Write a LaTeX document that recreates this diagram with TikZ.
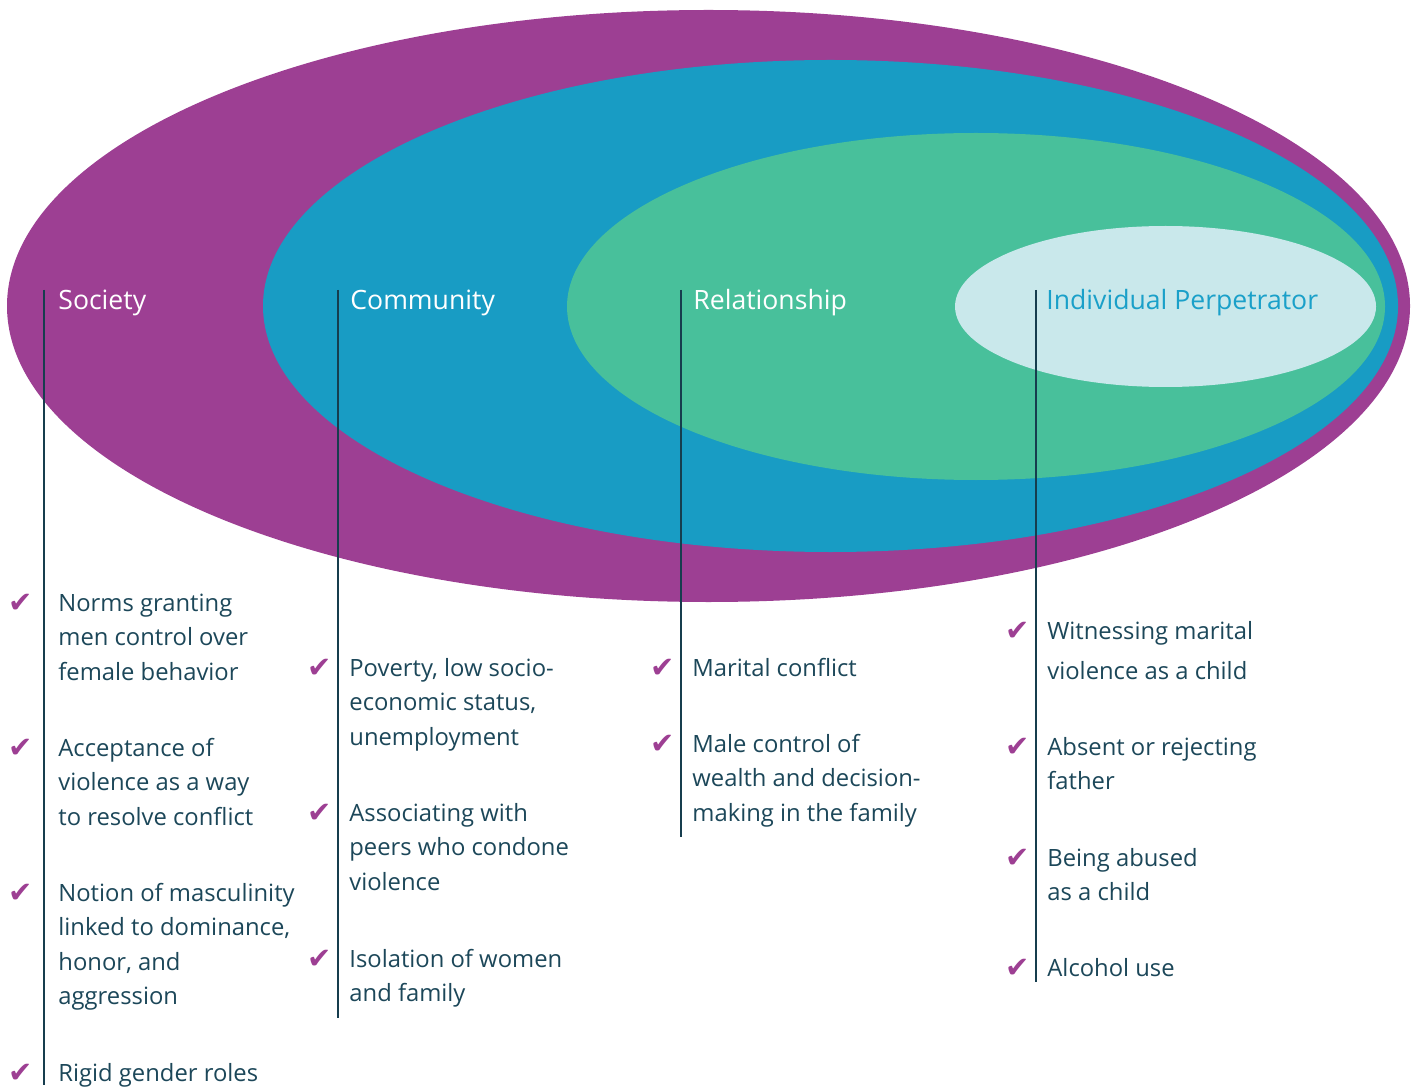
\documentclass[tikz,border=0pt]{standalone}
\usepackage{fontspec}
\setmainfont{Open Sans}
\newfontfamily\tickfont{DejaVu Sans}
\definecolor{societyc}{HTML}{9D3F93}
\definecolor{communityc}{HTML}{189CC4}
\definecolor{relationc}{HTML}{48C09B}
\definecolor{individc}{HTML}{C9E8EB}
\definecolor{inktext}{HTML}{1C4759}
\definecolor{inkline}{HTML}{163D4E}
\definecolor{labelblue}{HTML}{1AA0C9}
\tikzset{
  level/.style={anchor=base west, inner sep=0pt, font=\fontsize{13.3}{16}\selectfont},
  item/.style={anchor=base west, inner sep=0pt, text=inktext, font=\fontsize{11.9}{17.25}\selectfont},
  tick/.style={anchor=base west, inner sep=0pt, text=societyc, font=\tickfont\fontsize{14.5}{16}\selectfont},
  divider/.style={draw=inkline, line width=0.7pt}
}
\begin{document}
\begin{tikzpicture}[x=0.5pt, y=-0.5pt]
    \useasboundingbox (0,0) rectangle (1416,1090);
    % nested rings
    \fill[societyc] (708.5,306) ellipse [x radius=350.75pt, y radius=148pt];
    \fill[communityc] (830.5,306) ellipse [x radius=283.75pt, y radius=123pt];
    \fill[relationc] (976,306.5) ellipse [x radius=204.5pt, y radius=86.75pt];
    \fill[individc] (1165.5,306.5) ellipse [x radius=105.25pt, y radius=40.25pt];
    % dividers
    \coordinate (soctop) at (44,290);   \coordinate (socend) at (44,1085);
    \coordinate (comtop) at (338,290);  \coordinate (comend) at (338,1018);
    \coordinate (reltop) at (681,290);  \coordinate (relend) at (681,837);
    \coordinate (indtop) at (1036,290); \coordinate (indend) at (1036,982);
    \draw[divider] (soctop) -- (socend);
    \draw[divider] (comtop) -- (comend);
    \draw[divider] (reltop) -- (relend);
    \draw[divider] (indtop) -- (indend);
    % level names
    \node[level, text=white] (society) at (58,310) {Society};
    \node[level, text=white] (community) at (350,310) {Community};
    \node[level, text=white] (relationship) at (693,310) {Relationship};
    \node[level, text=labelblue] (individual) at (1046,310) {Individual Perpetrator};
    % society factors
    \node[tick] (st1) at (8,612) {✔};
    \node[item] (s1) at (58,611) {\parbox[t]{150pt}{Norms granting\\men control over\\female behavior}};
    \node[tick] (st2) at (8,757) {✔};
    \node[item] (s2) at (58,756) {\parbox[t]{150pt}{Acceptance of\\violence as a way\\to resolve conflict}};
    \node[tick] (st3) at (8,902) {✔};
    \node[item] (s3) at (58,901) {\parbox[t]{150pt}{Notion of masculinity\\linked to dominance,\\honor, and\\aggression}};
    \node[tick] (st4) at (8,1082) {✔};
    \node[item] (s4) at (58,1081) {Rigid gender roles};
    % community factors
    \node[tick] (ct1) at (307,677) {✔};
    \node[item] (c1) at (349,676) {\parbox[t]{150pt}{Poverty, low socio-\\economic status,\\unemployment}};
    \node[tick] (ct2) at (307,822) {✔};
    \node[item] (c2) at (349,821) {\parbox[t]{150pt}{Associating with\\peers who condone\\violence}};
    \node[tick] (ct3) at (307,968) {✔};
    \node[item] (c3) at (349,967) {\parbox[t]{150pt}{Isolation of women\\and family}};
    % relationship factors
    \node[tick] (rt1) at (650,677) {✔};
    \node[item] (r1) at (692,676) {Marital conflict};
    \node[tick] (rt2) at (650,753) {✔};
    \node[item] (r2) at (692,752) {\parbox[t]{150pt}{Male control of\\wealth and decision-\\making in the family}};
    % individual factors
    \node[tick] (it1) at (1005,640) {✔};
    \node[item] (i1) at (1047,639) {\parbox[t]{150pt}{Witnessing marital\\[2.75pt]violence as a child}};
    \node[tick] (it2) at (1005,756) {✔};
    \node[item] (i2) at (1047,755) {\parbox[t]{150pt}{Absent or rejecting\\father}};
    \node[tick] (it3) at (1005,867) {✔};
    \node[item] (i3) at (1047,866) {\parbox[t]{150pt}{Being abused\\as a child}};
    \node[tick] (it4) at (1005,977) {✔};
    \node[item] (i4) at (1047,976) {Alcohol use};
\end{tikzpicture}
\end{document}
